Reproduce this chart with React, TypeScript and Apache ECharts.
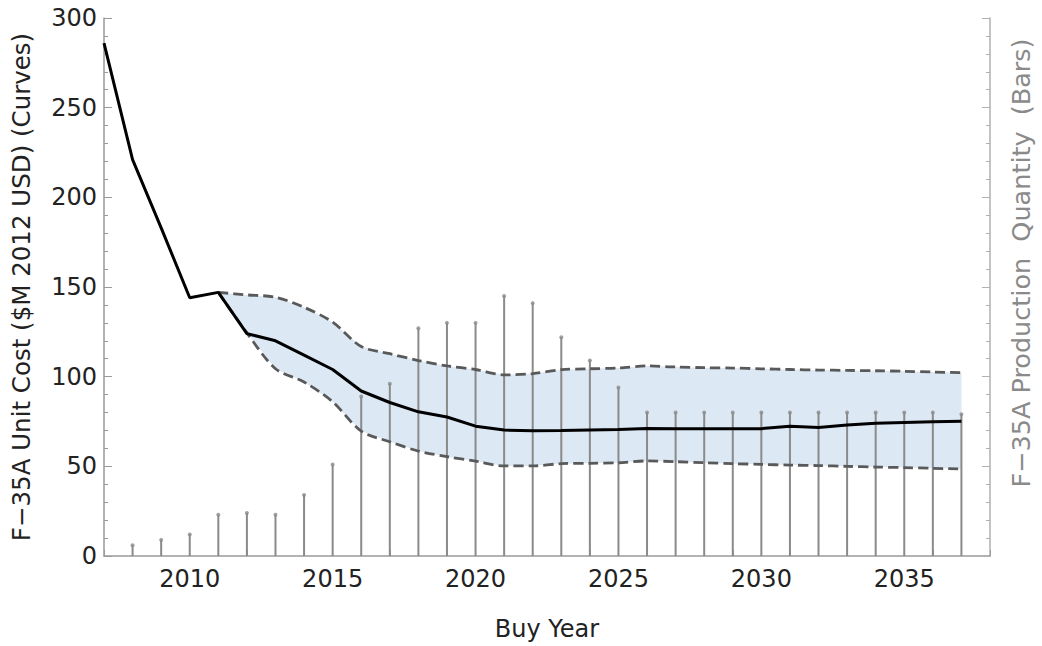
import React, { useEffect, useRef } from "react";
import * as echarts from "echarts";

const years = [2007, 2008, 2009, 2010, 2011, 2012, 2013, 2014, 2015, 2016, 2017, 2018, 2019, 2020, 2021, 2022, 2023, 2024, 2025, 2026, 2027, 2028, 2029, 2030, 2031, 2032, 2033, 2034, 2035, 2036, 2037];
const unitCost = [286, 221, 183, 144, 147, 124, 120, 112, 104, 92, 85.6, 80.4, 77.5, 72.4, 70.2, 69.8, 70, 70.3, 70.5, 71.1, 71, 71, 71, 71, 72.4, 71.7, 73, 74, 74.4, 74.8, 75.2];
const bandYears = [2011, 2012, 2013, 2014, 2015, 2016, 2017, 2018, 2019, 2020, 2021, 2022, 2023, 2024, 2025, 2026, 2027, 2028, 2029, 2030, 2031, 2032, 2033, 2034, 2035, 2036, 2037];
const upperCost = [147, 145.6, 144.3, 138.7, 130.4, 116.8, 112.8, 109, 106, 104, 101, 101.7, 103.9, 104.4, 104.8, 106, 105.4, 105, 104.8, 104.4, 104, 103.7, 103.5, 103.3, 103, 102.6, 102.2];
const lowerCost = [147, 124.4, 104.4, 97, 86, 69.6, 63.7, 58.5, 55.4, 52.9, 50.2, 50.2, 51.5, 51.7, 52, 53, 52.6, 52, 51.5, 51.1, 50.7, 50.4, 50, 49.6, 49.3, 48.9, 48.5];
const barYears = [2008, 2009, 2010, 2011, 2012, 2013, 2014, 2015, 2016, 2017, 2018, 2019, 2020, 2021, 2022, 2023, 2024, 2025, 2026, 2027, 2028, 2029, 2030, 2031, 2032, 2033, 2034, 2035, 2036, 2037];
const quantity = [6, 9, 12, 23, 24, 23, 34, 51, 89, 96, 127, 130, 130, 145, 141, 122, 109, 94, 80, 80, 80, 80, 80, 80, 80, 80, 80, 80, 80, 79];

const FONT = "'DejaVu Sans', sans-serif";
const FS = 24;

export default function App() {
  const ref = useRef<HTMLDivElement>(null);
  useEffect(() => {
    if (!ref.current) return;
    const chart = echarts.init(ref.current, undefined, { renderer: "svg" });
    const axisGray = "#9a9a9a";
    chart.setOption({
      animation: false,
      backgroundColor: "#ffffff",
      grid: { left: 104, right: 52, top: 18, bottom: 88 },
      xAxis: {
        type: "value",
        min: 2007,
        max: 2038,
        interval: 1,
        name: "Buy Year",
        nameLocation: "middle",
        nameGap: 61,
        nameTextStyle: { fontFamily: FONT, fontSize: FS, color: "#222" },
        axisLine: { lineStyle: { color: axisGray, width: 1.5 } },
        axisTick: { inside: true, length: 6, lineStyle: { color: axisGray } },
        axisLabel: {
          margin: 11,
          fontFamily: FONT,
          fontSize: FS,
          color: "#222",
          formatter: (v: number) => (v % 5 === 0 && v < 2038 ? String(v) : ""),
        },
        splitLine: { show: false },
      },
      yAxis: [
        {
          type: "value",
          min: 0,
          max: 300,
          interval: 50,
          name: "F\u221235A Unit Cost ($M 2012 USD) (Curves)",
          nameLocation: "middle",
          nameRotate: 90,
          nameGap: 70,
          nameTextStyle: { fontFamily: FONT, fontSize: 24.5, color: "#222" },
          axisLine: { show: true, lineStyle: { color: axisGray, width: 1.5 } },
          axisTick: { show: true, inside: true, length: 8, lineStyle: { color: axisGray } },
          minorTick: { show: true, splitNumber: 5, length: 4, lineStyle: { color: axisGray } },
          axisLabel: { margin: 7, fontFamily: FONT, fontSize: FS, color: "#222" },
          splitLine: { show: false },
        },
        {
          type: "value",
          min: 0,
          max: 300,
          interval: 50,
          position: "right",
          axisLine: { show: true, lineStyle: { color: "#b0b0b0", width: 1.5 } },
          axisTick: { show: true, inside: true, length: 8, lineStyle: { color: "#b0b0b0" } },
          minorTick: { show: true, splitNumber: 5, length: 4, lineStyle: { color: "#b0b0b0" } },
          axisLabel: { show: false },
          splitLine: { show: false },
        },
      ],
      graphic: [
        {
          type: "text",
          x: 1021,
          y: 263,
          rotation: Math.PI / 2,
          style: {
            text: "F\u221235A Production  Quantity  (Bars)",
            fontFamily: FONT,
            fontSize: 25.5,
            fill: "#8a8a8a",
            align: "center",
            verticalAlign: "middle",
          },
        },
      ],
      series: [
        {
          type: "custom",
          data: [0],
          silent: true,
          z: 1,
          renderItem: (_params: any, api: any) => {
            const pts: number[][] = [];
            bandYears.forEach((y, i) => pts.push(api.coord([y, upperCost[i]])));
            for (let i = bandYears.length - 1; i >= 0; i--) pts.push(api.coord([bandYears[i], lowerCost[i]]));
            return {
              type: "polygon",
              shape: { points: pts, smooth: 0 },
              style: { fill: "#dde8f5", stroke: "none" },
            };
          },
        },
        {
          type: "bar",
          yAxisIndex: 1,
          data: barYears.map((y, i) => [y, quantity[i]]),
          barWidth: 2,
          itemStyle: { color: "#8a8a8a" },
          z: 2,
        },
        {
          type: "scatter",
          yAxisIndex: 1,
          data: barYears.map((y, i) => [y, quantity[i]]),
          symbol: "circle",
          symbolSize: 4,
          itemStyle: { color: "#8a8a8a" },
          z: 2,
        },
        {
          type: "line",
          data: bandYears.map((y, i) => [y, upperCost[i]]),
          symbol: "none",
          smooth: 0.3,
          lineStyle: { color: "#595959", width: 2.8, type: [10, 5] },
          z: 3,
        },
        {
          type: "line",
          data: bandYears.map((y, i) => [y, lowerCost[i]]),
          symbol: "none",
          smooth: 0.3,
          lineStyle: { color: "#595959", width: 2.8, type: [10, 5] },
          z: 3,
        },
        {
          type: "line",
          data: years.map((y, i) => [y, unitCost[i]]),
          symbol: "none",
          lineStyle: { color: "#000000", width: 3 },
          z: 4,
        },
      ],
    });
    return () => chart.dispose();
  }, []);
  return (
    <div
      ref={ref}
      style={{ position: "fixed", left: 0, top: 0, width: 1042, height: 646, background: "#fff" }}
    />
  );
}
